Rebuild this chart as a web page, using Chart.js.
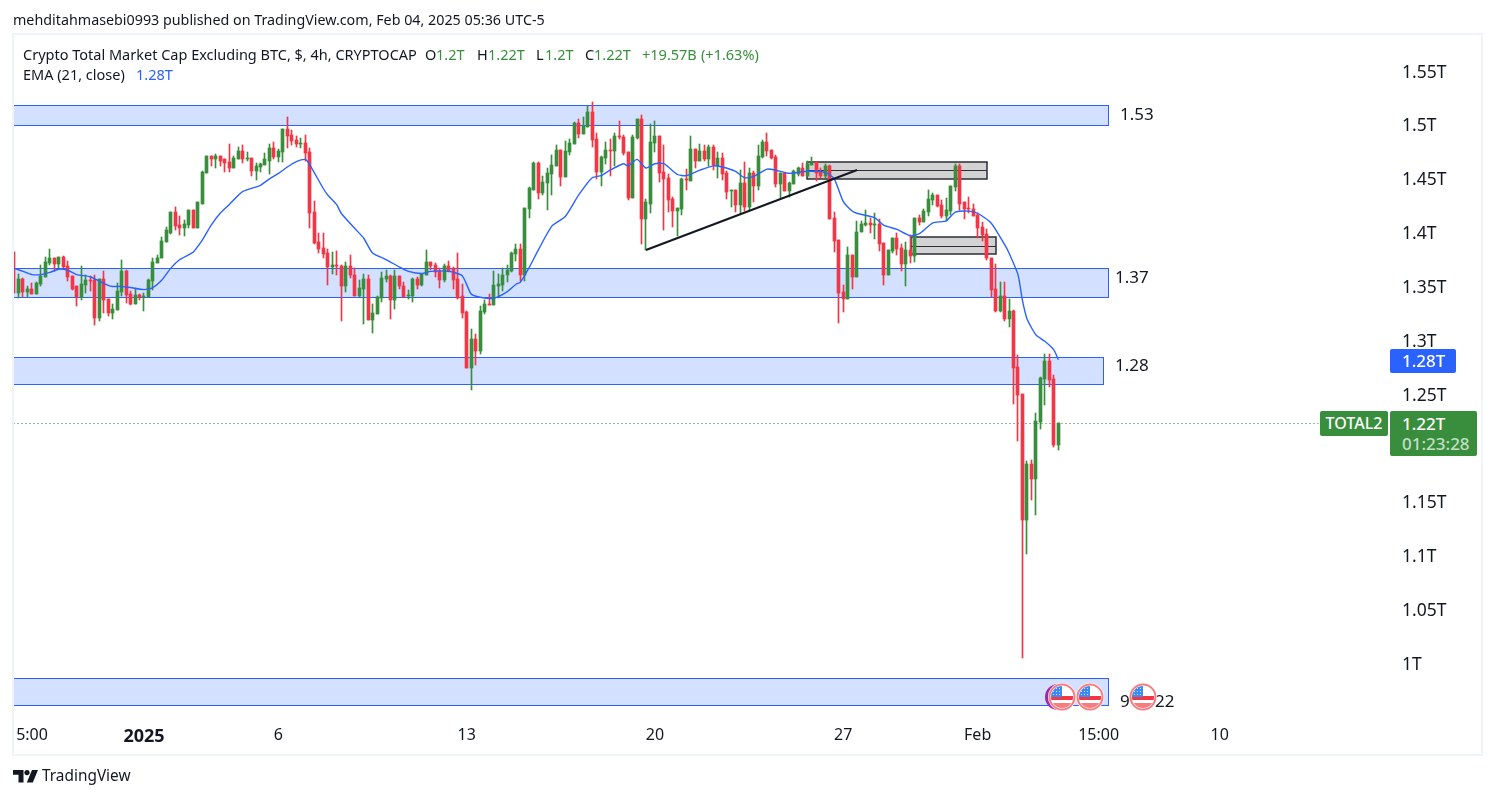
<!DOCTYPE html>
<html>
<head>
<meta charset="utf-8">
<title>TOTAL2</title>
<script src="https://cdn.jsdelivr.net/npm/chart.js@4"></script>
<style>
    body { margin: 0; background: #fff; font-family: "Noto Sans", sans-serif; color: #131722; }
    #wrap { position: relative; width: 1494px; height: 798px; overflow: hidden; }
    #wrap div, #wrap svg { position: absolute; white-space: nowrap; }
    canvas { position: absolute; left: 0; top: 0; }
    .frame { left: 12px; top: 33px; width: 1467px; height: 719px; border: 2px solid #f0f3fa; box-sizing: content-box; }
    .edge { left: 0; top: 700px; width: 12px; height: 60px; background: #fff; }
    .hd { font-size: 14.5px; line-height: 19px; top: 45px; }
    .hd2 { font-size: 14.5px; line-height: 19px; top: 65px; }
    .up { color: #388e3c; }
    .lvl { font-size: 17px; color: #131722; line-height: 20px; }
    .tag { color: #fff; font-size: 17px; font-weight: 500; border-radius: 2px; }
</style>
</head>
<body>
<div id="wrap">
    <canvas id="chart" width="1494" height="798"></canvas>
    <div class="frame"></div>
    <div class="edge"></div>

    <div style="left:13px;top:10px;font-size:14.3px;line-height:19px;">mehditahmasebi0993 published on TradingView.com, Feb 04, 2025 05:36 UTC-5</div>
    <div class="hd" style="left:23px;">Crypto Total Market Cap Excluding BTC, $, 4h, CRYPTOCAP</div>
    <div class="hd" style="left:425px;">O</div>
    <div class="hd up" style="left:436px;">1.2T</div>
    <div class="hd" style="left:477px;">H</div>
    <div class="hd up" style="left:488px;">1.22T</div>
    <div class="hd" style="left:536px;">L</div>
    <div class="hd up" style="left:545px;">1.2T</div>
    <div class="hd" style="left:585px;">C</div>
    <div class="hd up" style="left:594px;">1.22T</div>
    <div class="hd up" style="left:642px;">+19.57B</div>
    <div class="hd up" style="left:701px;">(+1.63%)</div>
    <div class="hd2" style="left:23px;">EMA (21, close)</div>
    <div class="hd2" style="left:136px;color:#2962ff">1.28T</div>

    <div class="lvl" style="left:1120px;top:104px;">1.53</div>
    <div class="lvl" style="left:1115px;top:267px;">1.37</div>
    <div class="lvl" style="left:1115px;top:355px;">1.28</div>
    <div class="lvl" style="left:1120px;top:691px;">9</div>
    <div class="lvl" style="left:1155px;top:691px;">22</div>

    <svg style="left:1042px;top:681px" width="120" height="32" viewBox="0 0 120 32">
        <defs>
            <clipPath id="c"><circle cx="0" cy="0" r="11"/></clipPath>
            <pattern id="dots" width="3" height="3" patternUnits="userSpaceOnUse">
                <rect width="3" height="3" fill="#3d8bf2"/><rect width="1" height="1" fill="#cfe2fb"/>
            </pattern>
            <g id="flag">
                <circle r="14" fill="#fff"/>
                <circle r="12.5" fill="#fff" stroke="#f77c80" stroke-width="2"/>
                <g clip-path="url(#c)">
                    <rect x="-11" y="-11" width="22" height="6" fill="#fff"/>
                    <rect x="-11" y="-1" width="22" height="4" fill="#f23645"/>
                    <rect x="-11" y="6" width="22" height="5" fill="#f77c80"/>
                    <rect x="-11" y="-11" width="11" height="11" fill="url(#dots)"/>
                </g>
            </g>
        </defs>
        <circle cx="16" cy="16" r="13" fill="#9c27b0"/>
        <use href="#flag" x="20" y="16"/>
        <use href="#flag" x="48" y="16"/>
        <use href="#flag" x="101" y="16"/>
    </svg>

    <div class="tag" style="left:1390px;top:349px;width:66px;height:24px;line-height:24px;background:#2962ff;text-indent:12px;">1.28T</div>
    <div class="tag" style="left:1320px;top:411px;width:68px;height:25px;line-height:25px;background:#388e3c;text-align:center;font-size:16px;">TOTAL2</div>
    <div class="tag" style="left:1390px;top:411px;width:87px;height:45px;background:#388e3c;"></div>
    <div class="tag" style="left:1402px;top:412px;line-height:23px;">1.22T</div>
    <div class="tag" style="left:1402px;top:433px;line-height:22px;color:#c4dec6;">01:23:28</div>

    <svg style="left:13px;top:770px" width="25" height="13" viewBox="0 0 25 13" fill="#131722">
        <path d="M0 0h10.5v12.5h-5V4.8H0z"/><circle cx="14" cy="2.6" r="2.6"/><path d="M19 0h6l-5.2 12.5h-6z"/>
    </svg>
    <div style="left:42px;top:766px;font-size:15.4px;line-height:20px;">TradingView</div>
</div>

<script>
// candle values in trillions, one per 4h bar
const opens = [
    1.382,1.344,1.357,1.345,1.348,1.343,1.352,1.359,1.372,1.376,
    1.371,1.377,1.369,1.360,1.350,1.340,1.351,1.356,1.356,1.321,
    1.357,1.338,1.325,1.328,1.345,1.364,1.343,1.334,1.342,1.340,
    1.340,1.355,1.372,1.376,1.391,1.400,1.419,1.407,1.404,1.407,
    1.421,1.404,1.427,1.455,1.471,1.468,1.471,1.468,1.466,1.460,
    1.468,1.476,1.468,1.469,1.457,1.461,1.463,1.467,1.479,1.470,
    1.475,1.496,1.491,1.486,1.482,1.483,1.475,1.419,1.391,1.386,
    1.381,1.368,1.370,1.369,1.350,1.369,1.361,1.341,1.348,1.357,
    1.319,1.324,1.339,1.357,1.360,1.337,1.360,1.350,1.341,1.341,
    1.357,1.351,1.361,1.373,1.370,1.364,1.356,1.369,1.366,1.357,
    1.341,1.326,1.274,1.301,1.290,1.326,1.334,1.333,1.350,1.351,
    1.361,1.364,1.380,1.385,1.361,1.422,1.440,1.465,1.437,1.446,
    1.454,1.462,1.477,1.452,1.475,1.482,1.502,1.492,1.498,1.512,
    1.487,1.456,1.469,1.477,1.476,1.490,1.489,1.475,1.432,1.488,
    1.506,1.413,1.427,1.483,1.490,1.456,1.451,1.431,1.420,1.422,
    1.450,1.448,1.478,1.467,1.476,1.468,1.480,1.462,1.469,1.455,
    1.439,1.440,1.426,1.446,1.424,1.455,1.443,1.470,1.484,1.477,
    1.470,1.445,1.455,1.439,1.445,1.454,1.460,1.453,1.463,1.466,
    1.456,1.453,1.462,1.414,1.393,1.345,1.338,1.379,1.359,1.401,
    1.407,1.409,1.407,1.408,1.390,1.361,1.383,1.395,1.386,1.371,
    1.384,1.378,1.414,1.410,1.419,1.430,1.435,1.426,1.415,1.420,
    1.442,1.462,1.428,1.423,1.422,1.416,1.405,1.399,1.376,1.348,
    1.327,1.341,1.320,1.327,1.275,1.250,1.133,1.185,1.171,1.224,
    1.264,1.281,1.264,1.203
];
const highs = [
    1.382,1.362,1.358,1.350,1.353,1.354,1.370,1.377,1.385,1.376,
    1.377,1.378,1.374,1.360,1.350,1.369,1.361,1.360,1.361,1.357,
    1.364,1.338,1.334,1.353,1.375,1.365,1.346,1.349,1.343,1.344,
    1.357,1.376,1.379,1.396,1.405,1.419,1.424,1.415,1.412,1.421,
    1.421,1.428,1.457,1.471,1.471,1.473,1.471,1.468,1.482,1.471,
    1.480,1.481,1.475,1.469,1.465,1.465,1.474,1.482,1.484,1.478,
    1.496,1.507,1.495,1.490,1.488,1.491,1.479,1.429,1.400,1.400,
    1.385,1.382,1.383,1.370,1.373,1.379,1.367,1.356,1.362,1.361,
    1.334,1.341,1.363,1.365,1.361,1.365,1.360,1.354,1.347,1.358,
    1.359,1.362,1.384,1.373,1.372,1.367,1.371,1.374,1.368,1.381,
    1.352,1.327,1.310,1.306,1.332,1.337,1.343,1.364,1.362,1.367,
    1.370,1.382,1.389,1.389,1.423,1.442,1.466,1.466,1.453,1.460,
    1.472,1.481,1.477,1.485,1.487,1.503,1.506,1.507,1.518,1.521,
    1.493,1.471,1.484,1.487,1.493,1.504,1.491,1.475,1.491,1.506,
    1.509,1.431,1.501,1.504,1.490,1.481,1.454,1.433,1.423,1.451,
    1.459,1.490,1.478,1.482,1.481,1.481,1.481,1.475,1.474,1.457,
    1.440,1.440,1.458,1.466,1.460,1.457,1.481,1.486,1.493,1.477,
    1.472,1.455,1.455,1.447,1.458,1.461,1.465,1.467,1.470,1.466,
    1.460,1.464,1.463,1.419,1.393,1.351,1.387,1.379,1.411,1.411,
    1.421,1.414,1.418,1.413,1.390,1.384,1.395,1.400,1.389,1.391,
    1.398,1.414,1.416,1.422,1.440,1.437,1.435,1.430,1.432,1.443,
    1.464,1.464,1.428,1.433,1.427,1.418,1.410,1.403,1.376,1.371,
    1.354,1.354,1.338,1.328,1.286,1.250,1.188,1.189,1.232,1.266,
    1.287,1.287,1.268,1.223
];
const lows = [
    1.344,1.339,1.340,1.340,1.343,1.343,1.350,1.359,1.370,1.364,
    1.367,1.367,1.355,1.347,1.332,1.337,1.344,1.346,1.314,1.318,
    1.325,1.323,1.320,1.328,1.341,1.335,1.333,1.334,1.337,1.327,
    1.340,1.347,1.372,1.376,1.391,1.399,1.402,1.398,1.397,1.404,
    1.404,1.404,1.427,1.455,1.462,1.460,1.462,1.456,1.456,1.460,
    1.468,1.465,1.467,1.453,1.449,1.456,1.463,1.454,1.468,1.466,
    1.466,1.479,1.481,1.480,1.479,1.467,1.404,1.389,1.381,1.376,
    1.351,1.362,1.361,1.318,1.345,1.358,1.341,1.340,1.315,1.319,
    1.307,1.324,1.336,1.354,1.320,1.329,1.348,1.340,1.338,1.336,
    1.348,1.350,1.361,1.365,1.359,1.349,1.354,1.363,1.348,1.338,
    1.321,1.274,1.254,1.277,1.287,1.324,1.333,1.333,1.339,1.346,
    1.354,1.363,1.374,1.355,1.355,1.414,1.440,1.431,1.435,1.421,
    1.435,1.462,1.443,1.452,1.472,1.482,1.488,1.492,1.498,1.480,
    1.450,1.443,1.464,1.453,1.462,1.487,1.472,1.430,1.432,1.487,
    1.389,1.384,1.418,1.475,1.447,1.402,1.419,1.405,1.397,1.416,
    1.440,1.448,1.460,1.467,1.467,1.462,1.458,1.451,1.449,1.431,
    1.424,1.419,1.417,1.420,1.421,1.428,1.440,1.469,1.471,1.468,
    1.442,1.432,1.439,1.433,1.445,1.453,1.453,1.453,1.463,1.448,
    1.451,1.451,1.413,1.382,1.316,1.326,1.338,1.348,1.359,1.401,
    1.406,1.400,1.394,1.383,1.351,1.361,1.381,1.379,1.364,1.350,
    1.372,1.373,1.407,1.410,1.415,1.426,1.424,1.414,1.411,1.416,
    1.439,1.421,1.413,1.418,1.415,1.395,1.392,1.375,1.340,1.326,
    1.326,1.318,1.312,1.241,1.206,1.005,1.101,1.152,1.138,1.218,
    1.240,1.257,1.201,1.198
];
const closes = [
    1.344,1.357,1.345,1.348,1.343,1.353,1.360,1.373,1.376,1.371,
    1.377,1.368,1.359,1.348,1.340,1.352,1.356,1.355,1.321,1.357,
    1.337,1.325,1.329,1.346,1.364,1.342,1.334,1.342,1.340,1.341,
    1.356,1.373,1.376,1.392,1.402,1.419,1.406,1.404,1.408,1.421,
    1.404,1.428,1.456,1.471,1.468,1.471,1.467,1.465,1.460,1.469,
    1.476,1.468,1.469,1.457,1.462,1.464,1.468,1.479,1.470,1.476,
    1.496,1.490,1.485,1.482,1.483,1.474,1.418,1.390,1.385,1.380,
    1.368,1.370,1.369,1.350,1.369,1.361,1.341,1.349,1.357,1.319,
    1.325,1.340,1.358,1.360,1.337,1.360,1.350,1.340,1.342,1.357,
    1.351,1.362,1.373,1.369,1.363,1.356,1.369,1.364,1.356,1.339,
    1.325,1.274,1.301,1.290,1.327,1.334,1.333,1.351,1.352,1.361,
    1.365,1.381,1.385,1.361,1.423,1.441,1.465,1.437,1.447,1.455,
    1.463,1.477,1.452,1.476,1.483,1.502,1.492,1.499,1.512,1.486,
    1.456,1.470,1.477,1.476,1.490,1.489,1.474,1.432,1.489,1.506,
    1.413,1.428,1.484,1.490,1.455,1.450,1.430,1.420,1.423,1.450,
    1.449,1.478,1.467,1.476,1.468,1.480,1.463,1.469,1.454,1.438,
    1.440,1.426,1.446,1.424,1.455,1.443,1.471,1.484,1.476,1.469,
    1.445,1.455,1.439,1.446,1.457,1.460,1.453,1.464,1.465,1.455,
    1.453,1.462,1.413,1.392,1.344,1.338,1.379,1.359,1.401,1.408,
    1.409,1.407,1.408,1.389,1.361,1.384,1.395,1.385,1.371,1.384,
    1.378,1.414,1.410,1.420,1.431,1.435,1.425,1.415,1.421,1.443,
    1.462,1.427,1.422,1.422,1.415,1.404,1.398,1.376,1.347,1.327,
    1.341,1.320,1.327,1.274,1.249,1.133,1.185,1.171,1.225,1.265,
    1.281,1.263,1.203,1.223
];

// EMA 21 at these bars
const emaBars = [0,2,4,6,8,10,12,14,17,19,21,22,24,26,29,31,33,35,37,40,42,44,46,48,51,55,57,59,61,63,65,66,69,70,72,73,76,78,80,83,86,88,91,93,97,100,102,104,107,110,112,113,115,117,120,123,126,129,131,133,136,137,139,141,143,145,148,150,153,156,158,161,163,165,168,170,173,177,181,183,185,187,188,192,194,197,200,202,205,208,210,213,215,218,221,222,224,225,226,228,230,232,233];
const emaValues = [1.367,1.364,1.361,1.361,1.363,1.366,1.365,1.361,1.359,1.355,1.351,1.350,1.350,1.349,1.347,1.349,1.356,1.367,1.375,1.382,1.393,1.407,1.418,1.426,1.438,1.444,1.450,1.455,1.461,1.466,1.468,1.463,1.441,1.435,1.426,1.418,1.404,1.395,1.381,1.375,1.368,1.364,1.362,1.364,1.364,1.360,1.343,1.340,1.339,1.345,1.352,1.354,1.368,1.384,1.406,1.415,1.435,1.451,1.453,1.458,1.464,1.462,1.468,1.460,1.464,1.464,1.454,1.453,1.458,1.462,1.461,1.457,1.451,1.452,1.459,1.458,1.455,1.457,1.456,1.450,1.429,1.420,1.418,1.414,1.407,1.403,1.397,1.399,1.409,1.411,1.419,1.420,1.418,1.409,1.389,1.381,1.361,1.337,1.320,1.305,1.299,1.291,1.282];

// drawings on the chart: first bar, last bar, top price, bottom price
const zoneBars = [[-1,244.1],[-1,244.1],[-1,243],[-1,244.1]];
const zoneTops = [1.5186,1.3667,1.2841,0.9863];
const zoneBottoms = [1.4996,1.3402,1.2597,0.9609];
const boxBars = [[176.9,217],[200.1,219]];
const boxTops = [1.4653,1.3957];
const boxMids = [1.4579,1.3879];
const boxBottoms = [1.4496,1.3799];
const trendBars = [141,188.1];
const trendValues = [1.3839,1.4582];
const lastPrice = 1.2227;
const priceLineBars = [-1,291];

// axes
const priceTicks = [1.55,1.5,1.45,1.4,1.35,1.3,1.25,1.15,1.1,1.05,1];
const timeTicks = [3,29,59,101,143,185,215,242,269];
const timeLabels = ['15:00','2025','6','13','20','27','Feb','15:00','10'];

const GREEN = '#388e3c';
const RED = '#f23645';
const BLUE = '#2962ff';

const bars = opens.map((o, i) => i);
const colors = opens.map((o, i) => closes[i] >= o ? GREEN : RED);

// snap candles to whole pixels like the original renderer does
const snapCandles = {
    id: 'snapCandles',
    afterDatasetsUpdate(chart) {
        [0, 1].forEach(d => {
            chart.getDatasetMeta(d).data.forEach(el => {
                el.x = Math.floor(el.x) + 0.5;
                el.y = Math.round(el.y);
                el.base = Math.round(el.base);
                if (el.base === el.y) el.base = el.y + 1;
            });
        });
    }
};

// price zones and grey boxes
const drawings = {
    id: 'drawings',
    beforeDatasetsDraw(chart) {
        const { ctx, chartArea: a, scales: { x, y } } = chart;
        ctx.save();
        ctx.beginPath();
        ctx.rect(a.left, a.top, a.width, a.height);
        ctx.clip();
        zoneTops.forEach((top, i) => {
            const l = x.getPixelForValue(zoneBars[i][0]);
            const r = Math.round(x.getPixelForValue(zoneBars[i][1])) + 0.5;
            const t = Math.round(y.getPixelForValue(top)) + 0.5;
            const b = Math.round(y.getPixelForValue(zoneBottoms[i])) + 0.5;
            ctx.fillStyle = 'rgba(41,98,255,0.2)';
            ctx.fillRect(l, t, r - l, b - t);
            ctx.strokeStyle = BLUE;
            ctx.lineWidth = 1;
            ctx.strokeRect(l, t, r - l, b - t);
        });
        boxTops.forEach((top, i) => {
            const l = Math.round(x.getPixelForValue(boxBars[i][0]));
            const r = Math.round(x.getPixelForValue(boxBars[i][1]));
            const t = Math.round(y.getPixelForValue(top));
            const b = Math.round(y.getPixelForValue(boxBottoms[i]));
            const m = Math.round(y.getPixelForValue(boxMids[i])) + 0.5;
            ctx.fillStyle = '#d3d3d3';
            ctx.fillRect(l, t, r - l, b - t);
            ctx.strokeStyle = '#2a2e39';
            ctx.lineWidth = 1.5;
            ctx.strokeRect(l, t, r - l, b - t);
            ctx.lineWidth = 1;
            ctx.beginPath();
            ctx.moveTo(l, m);
            ctx.lineTo(r, m);
            ctx.stroke();
        });
        ctx.restore();
    }
};

new Chart(document.getElementById('chart'), {
    type: 'bar',
    data: {
        datasets: [
            {
                label: 'wicks',
                data: bars.map(i => ({ x: i, y: [lows[i], highs[i]] })),
                backgroundColor: colors,
                barThickness: 1,
                grouped: false,
                order: 5
            },
            {
                label: 'bodies',
                data: bars.map(i => ({ x: i, y: [opens[i], closes[i]] })),
                backgroundColor: colors,
                barThickness: 3,
                grouped: false,
                order: 4
            },
            {
                type: 'line',
                label: 'EMA (21, close)',
                data: emaBars.map((b, i) => ({ x: b, y: emaValues[i] })),
                borderColor: BLUE,
                borderWidth: 1.4,
                pointRadius: 0,
                tension: 0.2,
                order: 2
            },
            {
                type: 'line',
                label: 'trend',
                data: trendBars.map((b, i) => ({ x: b, y: trendValues[i] })),
                borderColor: '#131722',
                borderWidth: 2,
                pointRadius: 0,
                order: 1
            },
            {
                type: 'line',
                label: 'last',
                data: priceLineBars.map(b => ({ x: b, y: lastPrice })),
                borderColor: '#2e6b32',
                borderWidth: 1,
                borderDash: [1, 3],
                pointRadius: 0,
                order: 6
            }
        ]
    },
    options: {
        responsive: false,
        animation: false,
        layout: { padding: { left: 13, right: 14, top: 35, bottom: 44 } },
        plugins: { legend: { display: false }, tooltip: { enabled: false } },
        scales: {
            x: {
                type: 'linear',
                offset: false,
                min: -0.22,
                max: 307,
                grid: { display: false, drawTicks: false },
                border: { display: false },
                afterFit: s => { s.height = 34; },
                afterBuildTicks: s => { s.ticks = timeTicks.map(value => ({ value })); },
                ticks: {
                    autoSkip: false,
                    maxRotation: 0,
                    padding: 6,
                    color: '#131722',
                    font: c => {
                        const bold = c.tick && timeLabels[timeTicks.indexOf(c.tick.value)] === '2025';
                        return { family: '"Noto Sans"', size: bold ? 18 : 16, weight: bold ? 'bold' : 'normal' };
                    },
                    callback: v => timeLabels[timeTicks.indexOf(v)]
                }
            },
            y: {
                position: 'right',
                min: 0.9472,
                max: 1.5836,
                grid: { display: false, drawTicks: false },
                border: { display: false },
                afterFit: s => { s.width = 90; },
                afterBuildTicks: s => { s.ticks = priceTicks.map(value => ({ value })); },
                ticks: {
                    padding: 12,
                    labelOffset: 1.5,
                    color: '#131722',
                    font: { family: '"Noto Sans"', size: 17.5 },
                    callback: v => v + 'T'
                }
            }
        }
    },
    plugins: [snapCandles, drawings]
});
</script>
</body>
</html>
